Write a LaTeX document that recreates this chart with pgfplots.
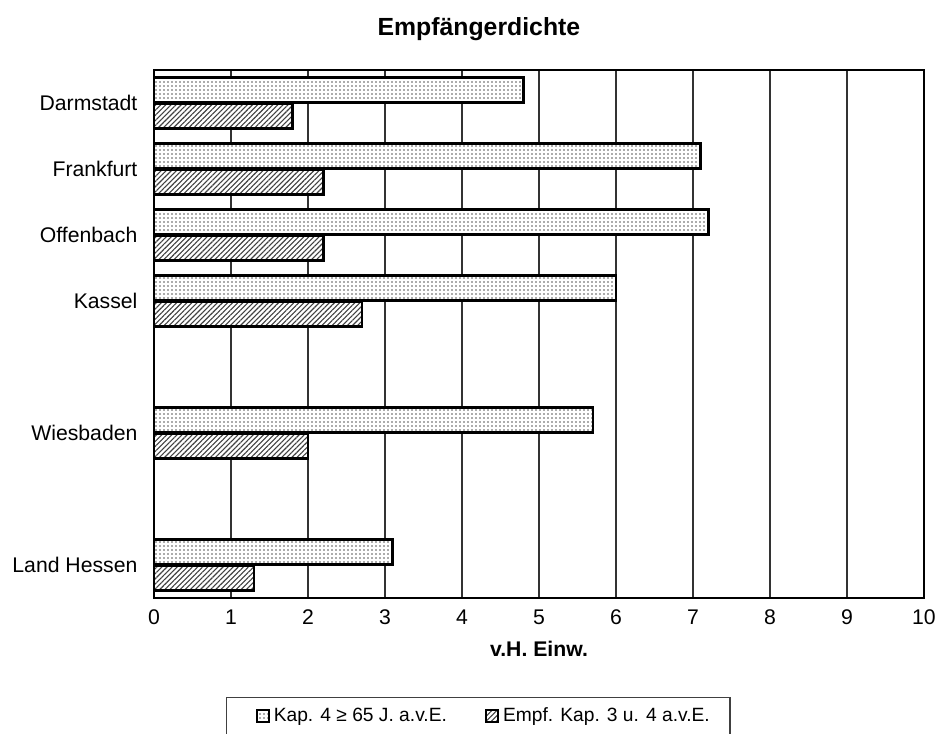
\documentclass[border=0pt]{standalone}
\usepackage{pgfplots}
\pgfplotsset{compat=1.18}
\usepackage{pgfplotstable}
\usetikzlibrary{patterns.meta}
\usepackage{fontspec}
\setmainfont{Liberation Sans}

% Empfängerdichte je Stadt (v.H. Einwohner); pos = Lage auf der Kategorienachse
\pgfplotstableread{
pos kap empf
7 4.8 1.8
6 7.1 2.2
5 7.2 2.2
4 6.0 2.7
2 5.7 2.0
0 3.1 1.3
}\datatable

\begin{document}
\begin{tikzpicture}
\begin{axis}[
  scale only axis,
  width=385pt, height=264pt,
  xbar, bar width=12.5pt,
  xmin=0, xmax=10, ymin=-0.5, ymax=7.5,
  xtick={0,1,...,10},
  ytick={0,2,4,5,6,7},
  yticklabels={Land Hessen,Wiesbaden,Kassel,Offenbach,Frankfurt,Darmstadt},
  xmajorgrids,
  grid style={black!80, line width=0.6pt},
  tick style={draw=none},
  axis line style={black, line width=0.7pt},
  /pgf/number format/assume math mode=true,
  ticklabel style={font=\fontsize{10.6}{13}\selectfont},
  xticklabel style={anchor=base, yshift=-13.5pt},
  yticklabel style={xshift=-0.5pt},
  title={Empfängerdichte},
  title style={font=\bfseries\fontsize{12.4}{15}\selectfont, at={(0.422,1)}, yshift=5pt},
  xlabel={v.H. Einw.},
  xlabel style={font=\bfseries\fontsize{10.6}{13}\selectfont, yshift=-1pt},
  clip=false,
  legend columns=2,
  legend style={
    at={(0.421,-0.1875)}, anchor=north,
    draw=black!75, line width=0.7pt,
    inner xsep=8pt, inner ysep=3pt,
    font=\fontsize{9.6}{12}\selectfont,
    /tikz/every even column/.append style={column sep=17pt},
  },
  legend image code/.code={
    \draw[#1, /tikz/.cd, line width=1.1pt] (0pt,-0.3em) rectangle (0.6em,0.32em);
  },
]
\addplot[bar shift=6.5pt, draw=black, line width=1.2pt,
  preaction={fill=white},
  pattern={Dots[distance=2pt, radius=0.45pt]}, pattern color=black!65,
  legend image code/.code={
    \path (-6.5pt,0pt);
    \draw[##1, /tikz/.cd, line width=1.1pt] (0pt,-0.3em) rectangle (0.6em,0.32em);
  }]
  table[x=kap, y=pos]{\datatable};
\addplot[bar shift=-6.5pt, draw=black, line width=1.2pt,
  preaction={fill=white},
  pattern={Lines[angle=45, distance=1.8pt, line width=0.55pt]}, pattern color=black!75]
  table[x=empf, y=pos]{\datatable};
\legend{Kap. 4 ≥ 65 J. a.v.E., Empf. Kap. 3 u. 4 a.v.E.}
\coordinate (bbl) at (rel axis cs:-0.2,-0.2576);
\coordinate (btr) at (rel axis cs:1.0221,1.1326);
\end{axis}
\pgfresetboundingbox
\path[use as bounding box] (bbl) rectangle (btr);
\end{tikzpicture}
\end{document}
